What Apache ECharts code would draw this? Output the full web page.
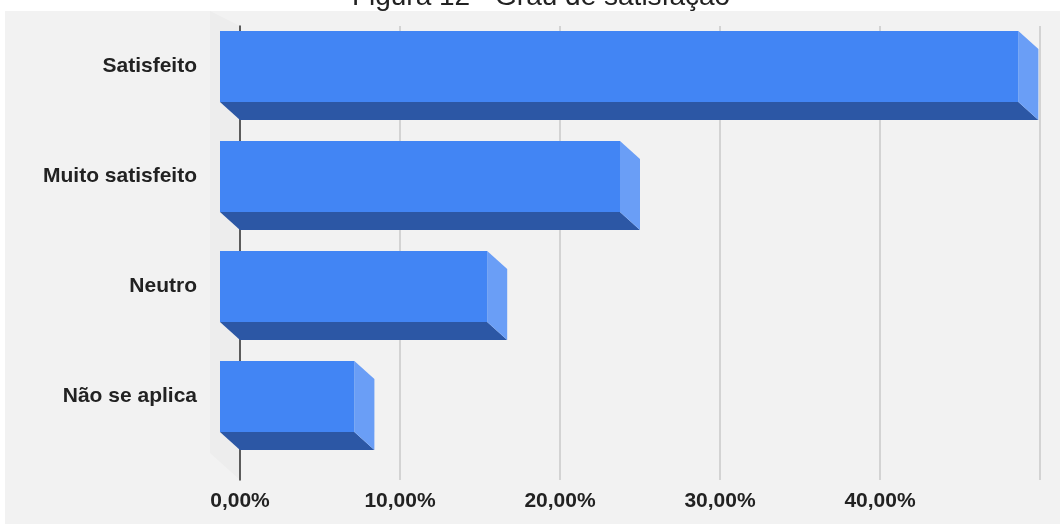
<!DOCTYPE html>
<html>
<head>
<meta charset="utf-8">
<script src="https://cdn.jsdelivr.net/npm/echarts@6/dist/echarts.min.js"></script>
<style>
  html, body { margin: 0; padding: 0; background: #ffffff; }
  #wrap { position: relative; width: 1060px; height: 524px; overflow: hidden; }
  #panel { position: absolute; left: 5px; top: 11px; right: 0; bottom: 0; background: #f2f2f2; }
  #chart { position: absolute; left: 0; top: 0; width: 1060px; height: 524px; }
</style>
</head>
<body>
<div id="wrap"><div id="panel"></div><div id="chart"></div></div>
<script>
// Survey answers: share of respondents per satisfaction level (%)
const titleText = 'Figura 12 - Grau de satisfação';
const categories = ['Satisfeito', 'Muito satisfeito', 'Neutro', 'Não se aplica'];
const shares = [49.9, 25.0, 16.7, 8.4];
const tickValues = [0, 10, 20, 30, 40];
const tickLabels = ['0,00%', '10,00%', '20,00%', '30,00%', '40,00%'];

// depth of the extruded bars (back face sits right/down of the front face)
const DEPTH_X = 20;
const DEPTH_Y = 18;

const labelFont = 'Liberation Sans, Arial, sans-serif';

function renderBar(params, api) {
  const cat = api.value(1);
  const v = api.value(0);
  const a = api.coord([0, cat]);
  const b = api.coord([v, cat]);
  const h = api.size([0, 1])[1] * 0.645;
  const xL = a[0], xR = b[0];
  const yT = a[1] - h / 2, yB = a[1] + h / 2;
  return {
    type: 'group',
    children: [
      {
        type: 'polygon',
        shape: { points: [[xL, yB], [xR, yB], [xR + DEPTH_X, yB + DEPTH_Y], [xL + DEPTH_X, yB + DEPTH_Y]] },
        style: { fill: '#2c57a5' }
      },
      {
        type: 'polygon',
        shape: { points: [[xR, yT], [xR + DEPTH_X, yT + DEPTH_Y], [xR + DEPTH_X, yB + DEPTH_Y], [xR, yB]] },
        style: { fill: '#6a9ef6' }
      },
      {
        type: 'rect',
        shape: { x: xL, y: yT, width: xR - xL, height: h },
        style: { fill: '#4285f4' }
      }
    ]
  };
}

const chart = echarts.init(document.getElementById('chart'), null, { renderer: 'canvas' });

chart.setOption({
  backgroundColor: 'transparent',
  animation: false,
  graphic: [
    {
      type: 'polygon',
      z: -1,
      silent: true,
      shape: { points: [[210, 11], [240, 26], [240, 480], [210, 453]] },
      style: { fill: '#ededed' }
    },
    {
      type: 'text',
      z: 10,
      x: 541,
      y: -3,
      style: {
        text: titleText,
        align: 'center',
        verticalAlign: 'middle',
        font: '28px ' + labelFont,
        fill: '#222222'
      }
    }
  ],
  grid: [
    // back plane: gridlines and the zero line
    { left: 240, right: 20, top: 26, bottom: 44 },
    // front plane: bar faces and category labels
    { left: 220, right: 40, top: 11.5, bottom: 72.5 }
  ],
  xAxis: [
    {
      gridIndex: 0,
      type: 'value',
      min: 0,
      max: 50,
      interval: 10,
      axisLine: { show: false },
      axisTick: { show: false },
      splitLine: { show: true, lineStyle: { color: '#c8c8c8', width: 1.5 } },
      axisLabel: {
        margin: 11,
        color: '#222222',
        fontSize: 21,
        fontWeight: 'bold',
        fontFamily: labelFont,
        formatter: function (v) {
          const i = tickValues.indexOf(v);
          return i >= 0 ? tickLabels[i] : '';
        }
      }
    },
    {
      gridIndex: 1,
      type: 'value',
      min: 0,
      max: 50,
      show: false
    }
  ],
  yAxis: [
    {
      gridIndex: 0,
      type: 'value',
      min: 0,
      max: 1,
      axisLine: { show: true, lineStyle: { color: '#333333', width: 1.5 } },
      axisTick: { show: false },
      axisLabel: { show: false },
      splitLine: { show: false }
    },
    {
      gridIndex: 1,
      type: 'category',
      data: categories,
      inverse: true,
      axisLine: { show: false },
      axisTick: { show: false },
      splitLine: { show: false },
      axisLabel: {
        margin: 23,
        color: '#222222',
        fontSize: 21,
        fontWeight: 'bold',
        fontFamily: labelFont
      }
    }
  ],
  series: [
    {
      type: 'custom',
      xAxisIndex: 1,
      yAxisIndex: 1,
      renderItem: renderBar,
      encode: { x: 0, y: 1 },
      data: shares.map(function (v, i) { return [v, i]; }),
      z: 5
    }
  ]
});
</script>
</body>
</html>
